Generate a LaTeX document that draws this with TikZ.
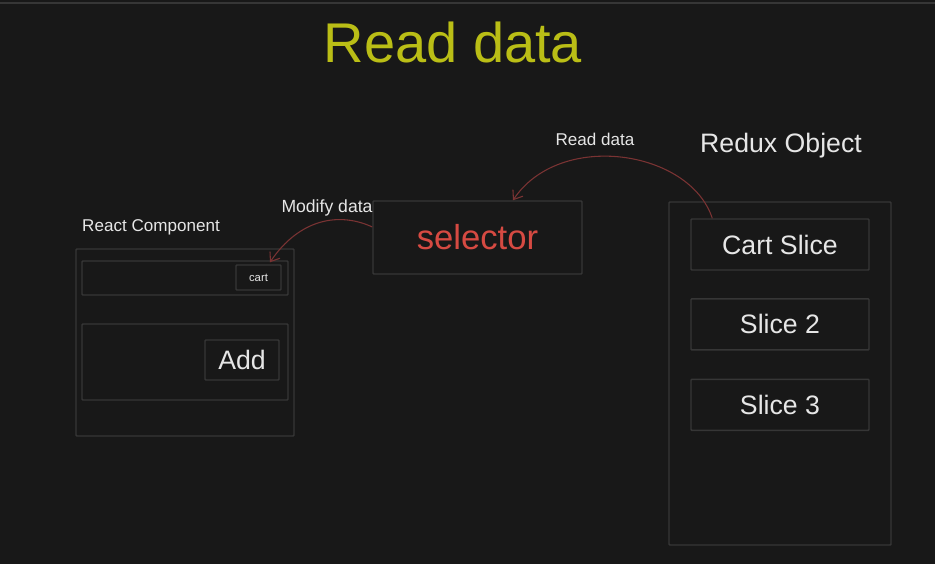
\documentclass[tikz,border=0pt]{standalone}
\usepackage{fontspec}
\setmainfont{Liberation Sans}
\usetikzlibrary{positioning, arrows.meta, calc}
\definecolor{bg}{HTML}{181818}
\definecolor{boxline}{HTML}{363636}
\definecolor{txt}{HTML}{E6E6E6}
\definecolor{titleyellow}{HTML}{BABE16}
\definecolor{selred}{HTML}{D64A42}
\definecolor{arrowred}{HTML}{7A3333}
\tikzset{
  x=0.75pt, y=-0.75pt,
  box/.style={draw=boxline, line width=1.1pt, rounded corners=0.6pt, inner sep=0pt},
  label text/.style={text=txt, inner sep=0pt},
  hand arrow/.style={draw=arrowred, line width=0.8pt, -{Straight Barb[length=6pt, width=9pt]}},
  node distance=20.5pt,
}

\begin{document}
\begin{tikzpicture}
  \fill[bg] (0,0) rectangle (935,564);
  \useasboundingbox (0,0) rectangle (935,564);
  \draw[boxline, line width=1pt] (0,3) -- (935,3);

  % title
  \node[text=titleyellow, font=\fontsize{42}{48}\selectfont] (title) at (453,42) {Read data};

  % selector
  \node[box, minimum width=156.75pt, minimum height=54.75pt,
        text=selred, font=\fontsize{26}{30}\selectfont] (sel) at (477.5,237.5) {selector};

  % redux object
  \node[box, minimum width=166.5pt, minimum height=257.25pt] (redux) at (780,373.5) {};
  \node[label text, font=\fontsize{20}{24}\selectfont] (reduxlbl) at (781,146) {Redux Object};
  \node[box, minimum width=133.5pt, minimum height=38.25pt, text=txt,
        font=\fontsize{20}{24}\selectfont] (cslice) at (780,244.5) {Cart Slice};
  \node[box, minimum width=133.5pt, minimum height=38.25pt, text=txt,
        font=\fontsize{20}{24}\selectfont, below=of cslice] (slice2) {Slice 2};
  \node[box, minimum width=133.5pt, minimum height=38.25pt, text=txt,
        font=\fontsize{20}{24}\selectfont, below=21pt of slice2] (slice3) {Slice 3};

  % react component
  \node[label text, font=\fontsize{12.8}{15}\selectfont] (reactlbl) at (151,227) {React Component};
  \node[box, minimum width=163.5pt, minimum height=140.25pt] (react) at (185,342.5) {};
  \node[box, minimum width=154.5pt, minimum height=25.5pt] (header) at (185,278) {};
  \node[box, minimum width=33.75pt, minimum height=18.75pt, text=txt,
        font=\fontsize{8.5}{10}\selectfont] (cartbtn) at (258.5,277.5) {cart};
  \node[box, minimum width=154.5pt, minimum height=57pt] (body) at (185,362) {};
  \node[box, minimum width=55.5pt, minimum height=30pt, text=txt,
        font=\fontsize{20}{24}\selectfont] (addbtn) at (242,360) {Add};

  % connectors
  \coordinate (readstart) at ([xshift=16.5pt]cslice.north west);
  \coordinate (readend) at ([xshift=26.6pt]sel.north);
  \coordinate (modstart) at ([yshift=7.9pt]sel.west);
  \coordinate (modend) at ([xshift=8.6pt, yshift=1.5pt]cartbtn.north);
  \draw[hand arrow] (readstart) .. controls (690,150) and (560,130) .. (readend);
  \draw[hand arrow] (modstart) .. controls (340,212) and (300,218) .. (modend);
  \node[label text, font=\fontsize{12.8}{15}\selectfont] (readlbl) at (595,139) {Read data};
  \node[label text, font=\fontsize{13.2}{15}\selectfont] (modlbl) at (327,208) {Modify data};
\end{tikzpicture}
\end{document}
